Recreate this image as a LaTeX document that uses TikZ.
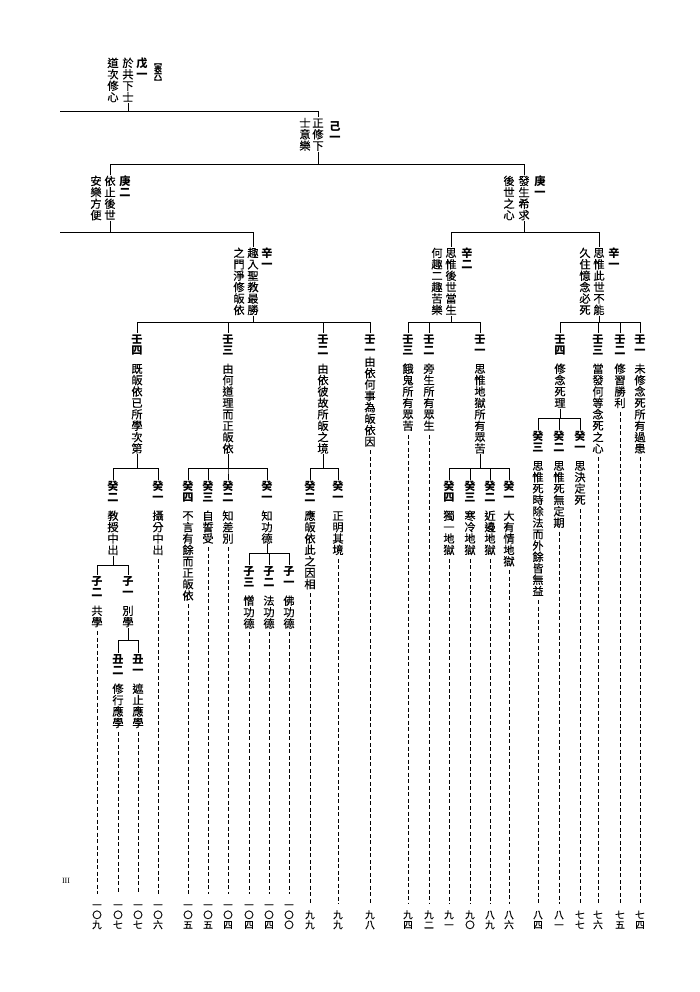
\documentclass[tikz,border=0pt]{standalone}
\usepackage{fontspec}
\setmainfont{Noto Sans CJK TC}
\newfontfamily\txtfont[FakeBold=0.4]{Noto Sans CJK TC}
\newcommand\labfont{\normalfont\bfseries}
\newfontfamily\romfont{Liberation Serif}
\usetikzlibrary{calc}

\newdimen\vpitch \vpitch=11.4pt
\newcommand\vcol[1]{\vbox{\offinterlineskip\vcolstep#1\relax}}
\def\vcolstep#1{\ifx\relax#1\else\hbox to 1em{\hss\vbox to \vpitch{\vss\hbox{\vrule height .88em depth .12em width 0pt#1}\vss}\hss}\expandafter\vcolstep\fi}
\newcommand\entry[3][7pt]{\vbox{\offinterlineskip{\labfont\fontsize{11.2}{12}\selectfont\vcol{#2}}\vskip#1\vcol{#3}}}

\tikzset{
  col/.style={inner sep=0pt, anchor=north, font=\fontsize{11.2}{12}\selectfont\txtfont},
  head/.style={col, font=\labfont\fontsize{11.2}{12}\selectfont},
  pgnum/.style={inner sep=0pt, anchor=south, font=\fontsize{9.6}{10}\selectfont\txtfont},
  link/.style={line width=0.8pt},
  lead/.style={line width=0.7pt, dash pattern=on 4pt off 2.5pt, shorten <=3pt, shorten >=6pt}
}

\begin{document}
\begin{tikzpicture}[x=1pt,y=-1pt]
\useasboundingbox (0,0) rectangle (699,992);

\node[col] (wu1) at (128,57) {\vcol{於共下士}};
\node[col] (wu1b) at (113,57) {\vcol{道次修心}};
\node[head] (wu1l) at (142,57) {\vcol{戊一}};
\node[head, font=\labfont\fontsize{8}{9}\selectfont] (tab6) at (158,59) {\vpitch=6.6pt\vcol{︻表六︼}};

\node[col] (ji1) at (318,117) {\vcol{正修下}};
\node[col] (ji1b) at (305,117) {\vcol{士意樂}};
\node[head] (ji1l) at (335,120) {\vcol{己一}};

\node[col] (geng2) at (110,175) {\vcol{依止後世}};
\node[col] (geng2b) at (96,175) {\vcol{安樂方便}};
\node[head] (geng2l) at (125,175) {\vcol{庚二}};
\node[col] (geng1) at (524,175) {\vcol{發生希求}};
\node[col] (geng1b) at (509,175) {\vcol{後世之心}};
\node[head] (geng1l) at (540,175) {\vcol{庚一}};

\node[col] (xin1a) at (253,247) {\vcol{趣入聖教最勝}};
\node[col] (xin1ab) at (239,247) {\vcol{之門淨修皈依}};
\node[head] (xin1al) at (267,247) {\vcol{辛一}};
\node[col] (xin2) at (451,247) {\vcol{思惟後世當生}};
\node[col] (xin2b) at (437,247) {\vcol{何趣二趣苦樂}};
\node[head] (xin2l) at (467,247) {\vcol{辛二}};
\node[col] (xin1b) at (599,247) {\vcol{思惟此世不能}};
\node[col] (xin1bb) at (585,247) {\vcol{久住憶念必死}};
\node[head] (xin1bl) at (614,247) {\vcol{辛一}};

\node[col] (ren4a) at (137,333) {\entry{壬四}{既皈依已所學次第}};
\node[col] (ren3a) at (228,333) {\entry{壬三}{由何道理而正皈依}};
\node[col] (ren2a) at (323,333) {\entry{壬二}{由依彼故所皈之境}};
\node[col] (ren1a) at (370,333) {\entry[0pt]{壬一}{由依何事為皈依因}};
\node[col] (ren3b) at (408,333) {\entry{壬三}{餓鬼所有眾苦}};
\node[col] (ren2b) at (429,333) {\entry{壬二}{旁生所有眾生}};
\node[col] (ren1b) at (480,333) {\entry{壬一}{思惟地獄所有眾苦}};
\node[col] (ren4c) at (560,333) {\entry{壬四}{修念死理}};
\node[col] (ren3c) at (598,333) {\entry{壬三}{當發何等念死之心}};
\node[col] (ren2c) at (620,333) {\entry{壬二}{修習勝利}};
\node[col] (ren1c) at (640,333) {\entry{壬一}{未修念死所有過患}};

\node[col] (gui2a) at (113,480) {\entry{癸二}{教授中出}};
\node[col] (gui1a) at (158,480) {\entry{癸一}{攝分中出}};
\node[col] (gui4b) at (188,480) {\entry{癸四}{不言有餘而正皈依}};
\node[col] (gui3b) at (208,480) {\entry{癸三}{自誓受}};
\node[col] (gui2b) at (228,480) {\entry{癸二}{知差別}};
\node[col] (gui1b) at (267,480) {\entry{癸一}{知功德}};
\node[col] (gui2c) at (310,480) {\entry{癸二}{應皈依此之因相}};
\node[col] (gui1c) at (338,480) {\entry{癸一}{正明其境}};
\node[col] (gui4d) at (449,480) {\entry{癸四}{獨一地獄}};
\node[col] (gui3d) at (470,480) {\entry{癸三}{寒冷地獄}};
\node[col] (gui2d) at (490,480) {\entry{癸二}{近邊地獄}};
\node[col] (gui1d) at (509,480) {\entry{癸一}{大有情地獄}};
\node[col] (gui3e) at (538,430) {\entry{癸三}{思惟死時除法而外餘皆無益}};
\node[col] (gui2e) at (559,430) {\entry{癸二}{思惟死無定期}};
\node[col] (gui1e) at (580,430) {\entry{癸一}{思決定死}};

\node[col] (zi2a) at (97,575) {\entry{子二}{共學}};
\node[col] (zi1a) at (128,575) {\entry{子一}{別學}};
\node[col] (zi3b) at (249,565) {\entry{子三}{憎功德}};
\node[col] (zi2b) at (269,565) {\entry{子二}{法功德}};
\node[col] (zi1b) at (289,565) {\entry{子一}{佛功德}};

\node[col] (chou2) at (118,653) {\entry{丑二}{修行應學}};
\node[col] (chou1) at (138,653) {\entry{丑一}{遮止應學}};

\node[font=\romfont\fontsize{8}{9}\selectfont, inner sep=0pt] (pagemark) at (66,881) {III};

\coordinate (edgeA) at (60,111);
\coordinate (edgeB) at (60,232);
\draw[link] (wu1.south) -- (wu1.south |- edgeA);
\draw[link] (edgeA) -| (ji1.north);
\foreach \c in {geng2,geng1} \draw[link] (ji1.south) -- ++(0,12.8) -| (\c.north);
\draw[link] (geng2.south) -- (geng2.south |- edgeB);
\draw[link] (edgeB) -| (xin1a.north);
\foreach \c in {xin2,xin1b} \draw[link] (geng1.south) -- ++(0,11.4) -| (\c.north);
\foreach \c in {ren4a,ren3a,ren2a,ren1a} \draw[link] (xin1a.south) -- ++(0,6.6) -| (\c.north);
\foreach \c in {ren3b,ren2b,ren1b} \draw[link] (xin2.south) -- ++(0,6.6) -| (\c.north);
\foreach \c in {ren4c,ren3c,ren2c,ren1c} \draw[link] (xin1b.south) -- ++(0,6.6) -| (\c.north);
\foreach \c in {gui2a,gui1a} \draw[link] (ren4a.south) -- ++(0,14) -| (\c.north);
\foreach \c in {gui4b,gui3b,gui2b,gui1b} \draw[link] (ren3a.south) -- ++(0,14) -| (\c.north);
\foreach \c in {gui2c,gui1c} \draw[link] (ren2a.south) -- ++(0,14) -| (\c.north);
\foreach \c in {gui4d,gui3d,gui2d,gui1d} \draw[link] (ren1b.south) -- ++(0,14) -| (\c.north);
\foreach \c in {gui3e,gui2e,gui1e} \draw[link] (ren4c.south) -- ++(0,9.6) -| (\c.north);
\foreach \c in {zi2a,zi1a} \draw[link] (gui2a.south) -- ++(0,9.6) -| (\c.north);
\foreach \c in {zi3b,zi2b,zi1b} \draw[link] (gui1b.south) -- ++(0,9) -| (\c.north);
\foreach \c in {chou2,chou1} \draw[link] (zi1a.south) -- ++(0,12.4) -| (\c.north);

\foreach \src/\num in {zi2a/一〇九, chou2/一〇七, chou1/一〇七, gui1a/一〇六, gui4b/一〇五, gui3b/一〇五, gui2b/一〇四, zi3b/一〇四, zi2b/一〇四, zi1b/一〇〇, gui2c/九九, gui1c/九九, ren1a/九八, ren3b/九四, ren2b/九二, gui4d/九一, gui3d/九〇, gui2d/八九, gui1d/八六, gui3e/八四, gui2e/八一, gui1e/七七, ren3c/七六, ren2c/七五, ren1c/七四}{
  \node[pgnum] (pg-\src) at (\src.south |- 0,930) {\vpitch=10pt\expandafter\vcol\expandafter{\num}};
  \draw[lead] (\src.south) -- (pg-\src.north);
}
\end{tikzpicture}
\end{document}
